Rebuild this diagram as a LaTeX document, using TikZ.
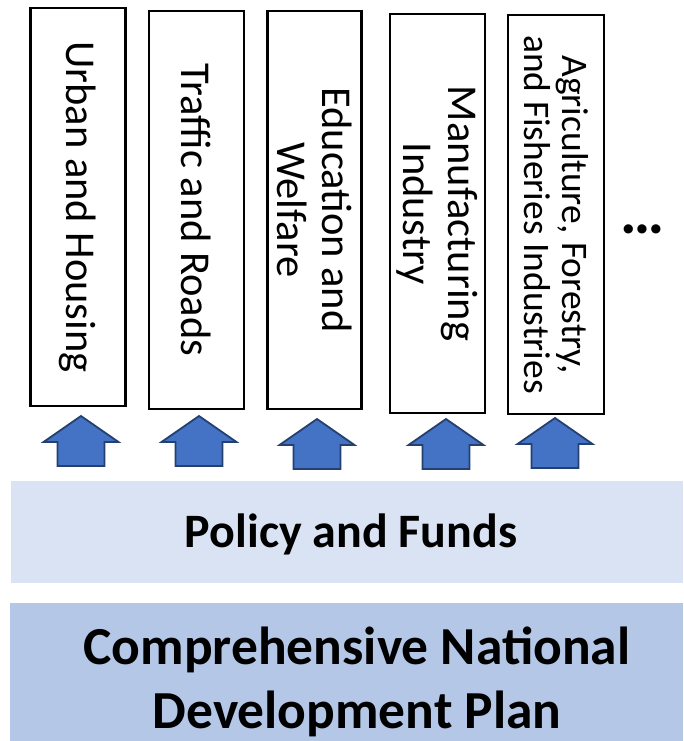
\documentclass[tikz,border=0pt]{standalone}
\usepackage{fontspec}
\setmainfont{Carlito}
\definecolor{bandlight}{HTML}{DAE3F3}
\definecolor{banddark}{HTML}{B4C7E7}
\definecolor{arrowfill}{HTML}{4472C4}
\definecolor{arrowline}{HTML}{23406F}
\tikzset{
  sector/.style={draw=black, line width=2.6pt, fill=white, rotate=-90, align=center,
    inner sep=0pt, font=\fontsize{42.5}{45}\selectfont},
  band/.style={inner sep=0pt, outer sep=0pt},
  uparrow/.style={fill=arrowfill, draw=arrowline, line width=1.8pt, line join=miter},
}
\begin{document}
\begin{tikzpicture}[x=1pt,y=-1pt]
\useasboundingbox (0,0) rectangle (683,741);
% sector boxes
\node (b1) [sector, minimum width=398pt, minimum height=95pt] at (78,207) {Urban and Housing};
\node (b2) [sector, minimum width=398pt, minimum height=95pt] at (196.5,210) {Traffic and Roads};
\node (b3) [sector, minimum width=398pt, minimum height=94pt] at (314.5,210) {Education and\\Welfare};
\node (b4) [sector, minimum width=399pt, minimum height=95pt] at (437.5,213.5) {Manufacturing\\Industry};
\node (b5) [sector, minimum width=399pt, minimum height=96pt, font=\fontsize{37.5}{38}\selectfont] at (556,214.5) {Agriculture, Forestry,\\and Fisheries Industries};
\node (dots) [font=\bfseries\fontsize{62}{62}\selectfont, inner sep=0pt] at (643,229) {…};
% block arrows
\foreach \cx/\ty in {81/416, 199/416, 317/419, 446/419, 555/418}{
  \draw[uparrow] (\cx,\ty) -- (\cx+37.5,\ty+26) -- (\cx+23.5,\ty+26) -- (\cx+23.5,\ty+50)
    -- (\cx-23.5,\ty+50) -- (\cx-23.5,\ty+26) -- (\cx-37.5,\ty+26) -- cycle;
}
% bands
\fill[bandlight] (11,481) rectangle (683,583);
\node (policy) [band, font=\bfseries\fontsize{48}{52}\selectfont] at (351,534) {Policy and Funds};
\fill[banddark] (10,603) rectangle (683,741);
\node (plan) [band, align=center, font=\bfseries\fontsize{53.5}{64}\selectfont] at (357,682) {Comprehensive National\\Development Plan};
\end{tikzpicture}
\end{document}
